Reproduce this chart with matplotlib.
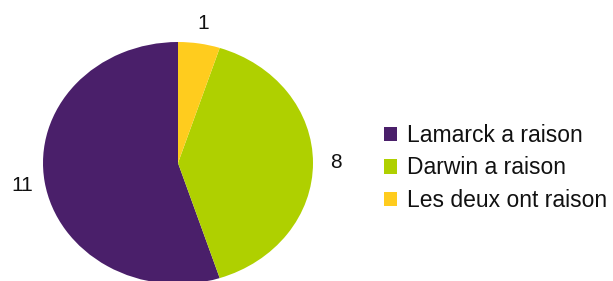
import matplotlib
matplotlib.use('Agg')
import matplotlib.pyplot as plt

categories = ['Lamarck a raison', 'Darwin a raison', 'Les deux ont raison']
counts = [11, 8, 1]
colors = ['#4a1f6a', '#afd000', '#ffcc1e']

plt.rcParams['font.family'] = ['Liberation Sans', 'DejaVu Sans']

fig = plt.figure(figsize=(6.13, 2.81), dpi=100)
ax = fig.add_axes([43 / 613, -3 / 281, 270 / 613, 242 / 281])

wedges, texts = ax.pie(counts, colors=colors, labels=[str(c) for c in counts],
                       startangle=90, counterclock=True, labeldistance=1.17,
                       radius=1, textprops={'fontsize': 15, 'color': '#111111'})
for t in texts:
    t.set_ha('center')
    t.set_va('center')
ax.set_aspect('auto')
ax.set_xlim(-1, 1)
ax.set_ylim(-1, 1)
for w in wedges:
    w.set_clip_on(False)

fig.legend(wedges, categories, loc='center left', bbox_to_anchor=(363 / 613, 113 / 281),
           frameon=False, fontsize=16.5, handlelength=0.6, handleheight=0.6,
           handletextpad=0.4, labelspacing=0.42, prop=None, labelcolor='#111111')

fig.savefig('out.png', dpi=100)
